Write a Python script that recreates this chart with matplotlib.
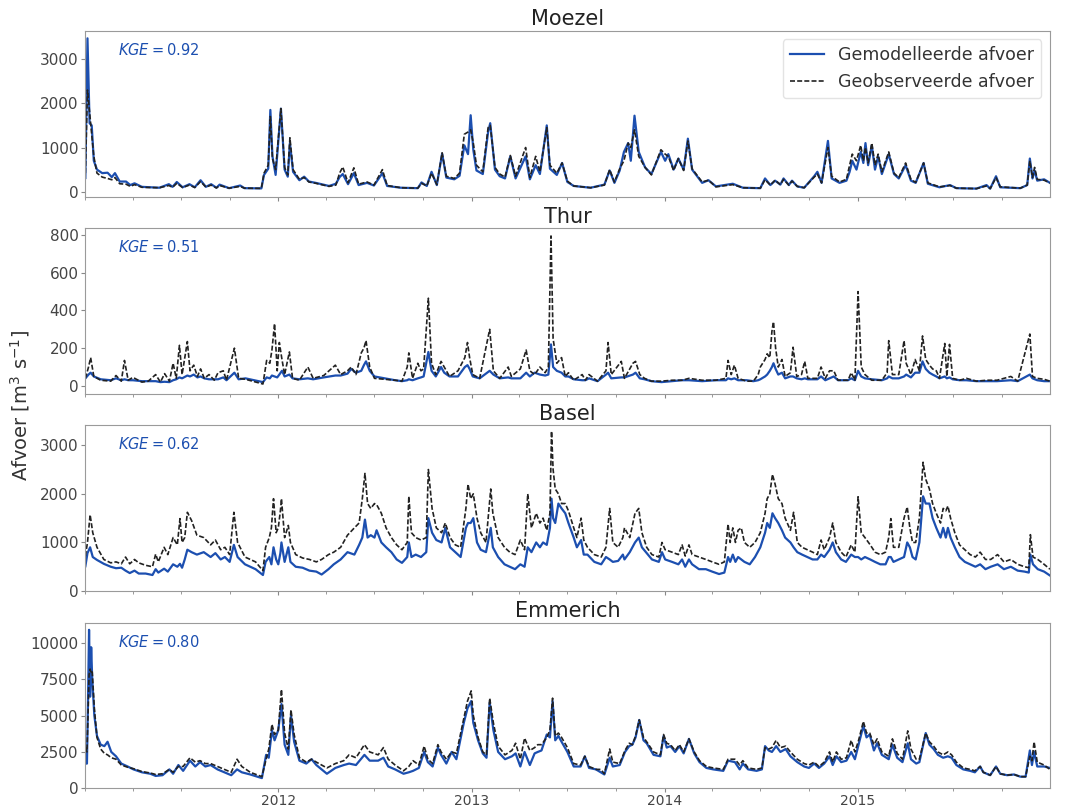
import matplotlib
matplotlib.use("Agg")
import matplotlib.pyplot as plt
import matplotlib.dates as mdates
import pandas as pd

# ---- Moezel ----
moezel_dates = [
    "2011-01-01", "2011-01-05", "2011-01-09", "2011-01-13", "2011-01-17", "2011-01-23",
    "2011-02-02", "2011-02-12", "2011-02-20", "2011-02-26", "2011-03-07", "2011-03-19",
    "2011-03-27", "2011-04-04", "2011-04-18", "2011-05-21", "2011-06-08", "2011-06-15",
    "2011-06-23", "2011-07-04", "2011-07-17", "2011-07-27", "2011-08-07", "2011-08-17",
    "2011-08-27", "2011-09-06", "2011-09-12", "2011-09-30", "2011-10-21", "2011-10-29",
    "2011-11-30", "2011-12-05", "2011-12-13", "2011-12-17", "2011-12-21", "2011-12-27",
    "2012-01-06", "2012-01-13", "2012-01-19", "2012-01-23", "2012-01-29", "2012-02-10",
    "2012-02-19", "2012-02-28", "2012-03-12", "2012-04-06", "2012-04-19", "2012-04-26",
    "2012-05-02", "2012-05-12", "2012-05-23", "2012-06-01", "2012-06-17", "2012-06-30",
    "2012-07-16", "2012-07-25", "2012-08-20", "2012-09-21", "2012-09-28", "2012-10-08",
    "2012-10-17", "2012-10-27", "2012-11-06", "2012-11-14", "2012-11-29", "2012-12-09",
    "2012-12-18", "2012-12-25", "2012-12-30", "2013-01-04", "2013-01-10", "2013-01-22",
    "2013-02-01", "2013-02-05", "2013-02-14", "2013-02-23", "2013-03-05", "2013-03-15",
    "2013-03-25", "2013-04-13", "2013-04-21", "2013-05-02", "2013-05-10", "2013-05-23",
    "2013-05-29", "2013-06-11", "2013-06-21", "2013-07-01", "2013-07-13", "2013-08-14",
    "2013-09-09", "2013-09-19", "2013-09-28", "2013-10-08", "2013-10-16", "2013-10-24",
    "2013-10-29", "2013-11-05", "2013-11-13", "2013-11-25", "2013-12-07", "2013-12-25",
    "2014-01-02", "2014-01-08", "2014-01-18", "2014-01-27", "2014-02-06", "2014-02-14",
    "2014-02-22", "2014-03-13", "2014-03-25", "2014-04-08", "2014-05-10", "2014-05-29",
    "2014-07-01", "2014-07-10", "2014-07-20", "2014-07-29", "2014-08-08", "2014-08-14",
    "2014-08-24", "2014-08-30", "2014-09-09", "2014-09-22", "2014-10-11", "2014-10-17",
    "2014-10-25", "2014-11-06", "2014-11-13", "2014-11-28", "2014-12-11", "2014-12-17",
    "2014-12-22", "2014-12-30", "2015-01-07", "2015-01-12", "2015-01-16", "2015-01-21",
    "2015-01-28", "2015-02-03", "2015-02-09", "2015-02-16", "2015-03-01", "2015-03-11",
    "2015-03-20", "2015-04-02", "2015-04-12", "2015-04-21", "2015-05-06", "2015-05-14",
    "2015-06-05", "2015-06-25", "2015-07-07", "2015-08-14", "2015-09-02", "2015-09-09",
    "2015-09-20", "2015-09-28", "2015-11-05", "2015-11-18", "2015-11-23", "2015-11-28",
    "2015-12-02", "2015-12-07", "2015-12-20", "2015-12-31",
]
moezel_mod = [
    310, 3470, 1550, 1500, 700, 500,
    420, 430, 330, 420, 230, 230,
    150, 190, 110, 90, 170, 110,
    220, 100, 170, 100, 260, 110,
    170, 90, 160, 80, 140, 80,
    75, 380, 520, 1850, 800, 380,
    1880, 500, 340, 1100, 450, 260,
    340, 230, 200, 130, 180, 330,
    400, 170, 420, 150, 200, 140,
    420, 130, 90, 80, 210, 130,
    450, 150, 860, 320, 280, 360,
    1050, 850, 1730, 950, 480, 400,
    1350, 1550, 500, 350, 300, 800,
    300, 800, 280, 600, 400, 1500,
    520, 380, 650, 220, 130, 90,
    160, 480, 200, 480, 900, 1100,
    700, 1720, 900, 550, 400, 900,
    700, 850, 500, 750, 500, 1200,
    500, 200, 260, 120, 180, 90,
    80, 300, 150, 250, 160, 300,
    150, 250, 120, 90, 350, 450,
    200, 1150, 300, 200, 250, 450,
    700, 500, 900, 650, 1100, 600,
    1050, 500, 800, 400, 850, 400,
    300, 600, 250, 200, 650, 180,
    100, 150, 80, 70, 150, 70,
    350, 100, 80, 150, 750, 300,
    480, 250, 280, 200,
]
moezel_obs = [
    420, 2300, 1800, 1300, 800, 420,
    330, 300, 270, 320, 180, 170,
    120, 160, 100, 90, 140, 100,
    190, 95, 150, 95, 230, 105,
    150, 85, 140, 80, 120, 80,
    75, 420, 600, 1700, 750, 500,
    1880, 550, 380, 1220, 500, 280,
    320, 220, 190, 120, 150, 420,
    560, 200, 540, 170, 220, 150,
    500, 140, 90, 80, 190, 130,
    420, 160, 880, 350, 300, 420,
    1300, 1350, 1400, 1100, 600, 450,
    1450, 1500, 550, 400, 330, 820,
    350, 1000, 320, 800, 450, 1450,
    600, 420, 650, 240, 130, 90,
    150, 500, 220, 520, 700, 1100,
    1000, 1400, 800, 550, 380, 950,
    850, 800, 480, 750, 480, 1150,
    520, 220, 260, 110, 160, 90,
    80, 270, 150, 260, 160, 280,
    150, 240, 120, 90, 330, 400,
    200, 1000, 350, 220, 280, 600,
    850, 700, 1050, 700, 1000, 650,
    1100, 600, 850, 450, 900, 420,
    320, 650, 280, 210, 650, 200,
    110, 140, 80, 70, 130, 70,
    320, 110, 80, 150, 700, 320,
    550, 280, 260, 200,
]

# ---- Thur ----
thur_dates = [
    "2011-01-01", "2011-01-07", "2011-01-11", "2011-01-17", "2011-01-30", "2011-02-18",
    "2011-02-28", "2011-03-10", "2011-03-16", "2011-03-23", "2011-04-01", "2011-04-18",
    "2011-04-30", "2011-05-14", "2011-05-23", "2011-05-31", "2011-06-09", "2011-06-16",
    "2011-06-22", "2011-06-28", "2011-07-03", "2011-07-13", "2011-07-18", "2011-07-25",
    "2011-08-01", "2011-08-07", "2011-08-14", "2011-08-23", "2011-09-02", "2011-09-09",
    "2011-09-19", "2011-09-25", "2011-10-10", "2011-10-18", "2011-10-31", "2011-12-03",
    "2011-12-10", "2011-12-16", "2011-12-20", "2011-12-25", "2011-12-30", "2012-01-03",
    "2012-01-08", "2012-01-13", "2012-01-22", "2012-01-28", "2012-02-10", "2012-02-26",
    "2012-03-07", "2012-03-27", "2012-04-18", "2012-04-28", "2012-05-11", "2012-05-18",
    "2012-05-27", "2012-06-06", "2012-06-11", "2012-06-15", "2012-06-22", "2012-07-01",
    "2012-07-21", "2012-08-09", "2012-08-22", "2012-09-01", "2012-09-04", "2012-09-11",
    "2012-09-21", "2012-09-27", "2012-10-02", "2012-10-11", "2012-10-17", "2012-10-25",
    "2012-11-04", "2012-11-10", "2012-11-20", "2012-12-06", "2012-12-19", "2012-12-24",
    "2012-12-28", "2013-01-03", "2013-01-16", "2013-02-04", "2013-02-11", "2013-02-23",
    "2013-03-11", "2013-03-17", "2013-04-03", "2013-04-14", "2013-04-21", "2013-04-30",
    "2013-05-10", "2013-05-20", "2013-05-26", "2013-05-31", "2013-06-04", "2013-06-11",
    "2013-06-20", "2013-06-27", "2013-07-03", "2013-07-13", "2013-07-29", "2013-08-04",
    "2013-08-11", "2013-08-27", "2013-09-12", "2013-09-16", "2013-09-22", "2013-10-11",
    "2013-10-17", "2013-11-02", "2013-11-07", "2013-11-15", "2013-11-24", "2013-12-07",
    "2013-12-26", "2014-01-15", "2014-02-03", "2014-02-16", "2014-03-13", "2014-04-08",
    "2014-04-27", "2014-05-01", "2014-05-07", "2014-05-13", "2014-05-20", "2014-06-05",
    "2014-06-18", "2014-06-27", "2014-07-01", "2014-07-10", "2014-07-14", "2014-07-19",
    "2014-07-23", "2014-07-26", "2014-07-30", "2014-08-04", "2014-08-11", "2014-08-17",
    "2014-08-27", "2014-09-01", "2014-09-08", "2014-09-17", "2014-09-23", "2014-09-29",
    "2014-10-17", "2014-10-24", "2014-11-01", "2014-11-09", "2014-11-17", "2014-11-25",
    "2014-12-14", "2014-12-20", "2014-12-27", "2015-01-02", "2015-01-08", "2015-01-15",
    "2015-01-28", "2015-02-16", "2015-02-26", "2015-03-01", "2015-03-08", "2015-03-20",
    "2015-03-30", "2015-04-03", "2015-04-12", "2015-04-20", "2015-04-28", "2015-05-04",
    "2015-05-10", "2015-05-17", "2015-05-23", "2015-05-30", "2015-06-05", "2015-06-15",
    "2015-06-19", "2015-06-24", "2015-06-30", "2015-07-13", "2015-07-26", "2015-08-14",
    "2015-09-02", "2015-09-22", "2015-10-18", "2015-10-31", "2015-11-23", "2015-11-28",
    "2015-12-07", "2015-12-20", "2015-12-31",
]
thur_mod = [
    40, 60, 70, 50, 35, 30,
    40, 30, 35, 30, 30, 25,
    25, 25, 20, 22, 20, 30,
    35, 45, 40, 55, 50, 60,
    45, 50, 40, 35, 35, 35,
    45, 30, 70, 35, 40, 20,
    45, 40, 55, 50, 45, 60,
    80, 50, 60, 40, 35, 40,
    35, 45, 55, 55, 65, 90,
    70, 80, 110, 130, 80, 50,
    40, 30, 25, 30, 35, 30,
    40, 45, 50, 180, 80, 50,
    100, 70, 50, 50, 100, 110,
    90, 50, 40, 80, 60, 40,
    45, 40, 40, 70, 50, 70,
    60, 55, 60, 220, 100, 80,
    70, 50, 50, 35, 30, 30,
    40, 25, 60, 70, 40, 45,
    45, 60, 70, 40, 35, 25,
    20, 25, 30, 30, 25, 30,
    30, 40, 35, 40, 30, 30,
    25, 30, 35, 50, 60, 80,
    100, 120, 90, 60, 70, 40,
    50, 50, 40, 35, 40, 35,
    35, 50, 30, 40, 50, 30,
    30, 40, 30, 80, 50, 40,
    35, 30, 40, 50, 40, 40,
    50, 60, 45, 70, 70, 130,
    90, 70, 60, 50, 40, 50,
    40, 45, 35, 30, 30, 25,
    25, 25, 30, 25, 60, 40,
    30, 25, 25,
]
thur_obs = [
    40, 100, 150, 50, 30, 25,
    55, 25, 135, 30, 45, 20,
    25, 60, 20, 65, 25, 120,
    40, 215, 60, 235, 80, 110,
    50, 90, 40, 60, 30, 70,
    80, 30, 200, 40, 35, 10,
    135, 120, 190, 330, 80, 230,
    140, 60, 180, 40, 30, 100,
    40, 55, 110, 60, 80, 100,
    60, 175, 200, 240, 100, 40,
    35, 30, 25, 100, 175, 40,
    120, 80, 90, 465, 120, 60,
    130, 100, 50, 80, 150, 230,
    150, 60, 40, 300, 80, 40,
    100, 50, 90, 190, 80, 60,
    100, 70, 100, 795, 250, 120,
    150, 50, 70, 30, 60, 30,
    60, 25, 80, 230, 60, 130,
    40, 120, 130, 60, 40, 25,
    25, 30, 30, 40, 30, 30,
    40, 135, 60, 110, 40, 25,
    25, 60, 100, 140, 170, 150,
    290, 340, 200, 100, 140, 50,
    70, 205, 50, 60, 130, 40,
    40, 100, 40, 80, 80, 30,
    30, 70, 30, 500, 100, 60,
    30, 30, 70, 240, 60, 60,
    240, 120, 60, 140, 80, 265,
    140, 110, 90, 80, 40, 225,
    50, 220, 40, 30, 40, 25,
    30, 30, 50, 25, 275, 50,
    40, 35, 25,
]

# ---- Basel ----
basel_dates = [
    "2011-01-01", "2011-01-05", "2011-01-10", "2011-01-15", "2011-01-23", "2011-02-05",
    "2011-02-18", "2011-02-28", "2011-03-10", "2011-03-18", "2011-03-26", "2011-04-04",
    "2011-04-12", "2011-04-25", "2011-05-08", "2011-05-14", "2011-05-19", "2011-05-30",
    "2011-06-06", "2011-06-16", "2011-06-24", "2011-06-29", "2011-07-03", "2011-07-08",
    "2011-07-13", "2011-07-21", "2011-07-31", "2011-08-13", "2011-08-26", "2011-09-04",
    "2011-09-14", "2011-09-22", "2011-10-01", "2011-10-09", "2011-10-16", "2011-10-30",
    "2011-11-19", "2011-12-03", "2011-12-08", "2011-12-15", "2011-12-19", "2011-12-23",
    "2011-12-28", "2012-01-01", "2012-01-05", "2012-01-07", "2012-01-13", "2012-01-20",
    "2012-01-24", "2012-02-03", "2012-02-16", "2012-02-29", "2012-03-13", "2012-03-23",
    "2012-04-05", "2012-04-15", "2012-04-28", "2012-05-11", "2012-05-24", "2012-06-02",
    "2012-06-08", "2012-06-13", "2012-06-18", "2012-06-24", "2012-07-01", "2012-07-05",
    "2012-07-14", "2012-07-23", "2012-08-02", "2012-08-12", "2012-08-22", "2012-09-01",
    "2012-09-04", "2012-09-09", "2012-09-17", "2012-09-27", "2012-10-07", "2012-10-11",
    "2012-10-18", "2012-10-26", "2012-11-05", "2012-11-12", "2012-11-21", "2012-12-01",
    "2012-12-11", "2012-12-21", "2012-12-25", "2012-12-30", "2013-01-04", "2013-01-11",
    "2013-01-18", "2013-01-28", "2013-02-06", "2013-02-10", "2013-02-20", "2013-03-04",
    "2013-03-14", "2013-03-24", "2013-04-03", "2013-04-11", "2013-04-17", "2013-04-24",
    "2013-05-03", "2013-05-10", "2013-05-16", "2013-05-23", "2013-05-29", "2013-06-01",
    "2013-06-04", "2013-06-08", "2013-06-14", "2013-06-20", "2013-06-27", "2013-07-03",
    "2013-07-13", "2013-07-19", "2013-07-27", "2013-08-01", "2013-08-08", "2013-08-21",
    "2013-09-03", "2013-09-12", "2013-09-19", "2013-09-25", "2013-10-05", "2013-10-14",
    "2013-10-17", "2013-10-27", "2013-11-06", "2013-11-13", "2013-11-19", "2013-11-28",
    "2013-12-08", "2013-12-21", "2013-12-27", "2014-01-02", "2014-01-15", "2014-01-27",
    "2014-02-03", "2014-02-09", "2014-02-16", "2014-02-22", "2014-03-07", "2014-03-20",
    "2014-04-01", "2014-04-14", "2014-04-24", "2014-05-01", "2014-05-05", "2014-05-10",
    "2014-05-15", "2014-05-20", "2014-05-26", "2014-06-01", "2014-06-11", "2014-06-21",
    "2014-07-01", "2014-07-10", "2014-07-14", "2014-07-19", "2014-07-24", "2014-07-29",
    "2014-08-04", "2014-08-11", "2014-08-17", "2014-08-27", "2014-09-02", "2014-09-09",
    "2014-09-18", "2014-09-28", "2014-10-08", "2014-10-17", "2014-10-24", "2014-10-30",
    "2014-11-09", "2014-11-15", "2014-11-21", "2014-12-01", "2014-12-10", "2014-12-20",
    "2014-12-27", "2015-01-02", "2015-01-08", "2015-01-15", "2015-01-25", "2015-02-03",
    "2015-02-13", "2015-02-23", "2015-03-01", "2015-03-05", "2015-03-10", "2015-03-20",
    "2015-03-30", "2015-04-05", "2015-04-10", "2015-04-15", "2015-04-21", "2015-04-28",
    "2015-05-05", "2015-05-10", "2015-05-17", "2015-05-23", "2015-05-30", "2015-06-07",
    "2015-06-12", "2015-06-17", "2015-06-21", "2015-06-26", "2015-07-04", "2015-07-13",
    "2015-07-23", "2015-08-02", "2015-08-12", "2015-08-21", "2015-08-31", "2015-09-10",
    "2015-09-23", "2015-10-05", "2015-10-18", "2015-10-31", "2015-11-13", "2015-11-21",
    "2015-11-24", "2015-11-29", "2015-12-08", "2015-12-20", "2015-12-31",
]
basel_mod = [
    510, 780, 900, 700, 640, 560,
    500, 470, 480, 420, 370, 420,
    360, 360, 330, 450, 380, 460,
    400, 550, 500, 560, 480, 650,
    850, 800, 750, 800, 700, 780,
    650, 700, 600, 950, 700, 550,
    450, 330, 600, 700, 550, 900,
    650, 550, 780, 1000, 600, 900,
    600, 500, 480, 420, 400, 340,
    450, 550, 650, 800, 750, 950,
    1100, 1470, 1100, 1150, 1100, 1250,
    1000, 900, 800, 650, 580, 700,
    1000, 700, 750, 700, 800, 1500,
    1200, 1050, 1000, 1300, 900, 800,
    700, 1300, 1400, 1400, 1500, 1000,
    850, 800, 1300, 900, 700, 550,
    500, 450, 550, 500, 900, 800,
    1000, 900, 1000, 950, 1300, 1900,
    1500, 1400, 1800, 1700, 1600, 1400,
    1100, 900, 1050, 750, 750, 600,
    550, 700, 650, 600, 620, 750,
    650, 800, 1000, 1100, 900, 780,
    650, 600, 800, 650, 600, 550,
    650, 500, 650, 550, 450, 450,
    400, 350, 380, 700, 600, 750,
    600, 700, 650, 600, 550, 700,
    900, 1200, 1400, 1300, 1600, 1500,
    1400, 1250, 1100, 1000, 900, 800,
    750, 700, 650, 650, 750, 700,
    850, 1000, 800, 650, 600, 750,
    700, 700, 650, 700, 650, 600,
    550, 550, 700, 700, 600, 650,
    700, 1000, 900, 700, 650, 1000,
    1950, 1800, 1800, 1500, 1300, 1100,
    1300, 1100, 1300, 1100, 900, 700,
    600, 550, 500, 550, 450, 500,
    550, 450, 500, 420, 400, 380,
    750, 550, 450, 400, 320,
]
basel_obs = [
    720, 1000, 1570, 1200, 900, 650,
    580, 600, 560, 700, 560, 650,
    580, 530, 500, 760, 600, 900,
    750, 1100, 950, 1490, 1000, 1100,
    1620, 1450, 1150, 1100, 950, 1050,
    850, 900, 750, 1620, 1000, 700,
    600, 420, 900, 1100, 1300, 1900,
    1200, 1300, 1650, 1900, 1100, 1350,
    1000, 750, 680, 650, 600, 650,
    750, 800, 900, 1150, 1300, 1400,
    1900, 2420, 1800, 1700, 1800, 1780,
    1600, 1300, 1100, 950, 850, 1000,
    1950, 1200, 1100, 1050, 1100, 2500,
    1700, 1300, 1200, 1400, 1100, 950,
    900, 1700, 2200, 1900, 2000, 1500,
    1200, 1000, 2100, 1600, 1100, 900,
    800, 750, 1050, 850, 2000, 1300,
    1600, 1400, 1500, 1250, 1600, 3290,
    2500, 2100, 2000, 1800, 1800, 1650,
    1300, 1100, 1500, 1050, 900, 750,
    700, 900, 1700, 1000, 900, 1100,
    1300, 1100, 1600, 1700, 1200, 900,
    750, 700, 1000, 850, 800, 750,
    950, 720, 950, 750, 700, 650,
    600, 550, 600, 1380, 1000, 1300,
    1000, 1250, 1300, 1000, 900, 1000,
    1200, 1600, 1900, 2000, 2400, 2200,
    1900, 1800, 1500, 1250, 1620, 1000,
    900, 850, 800, 750, 1050, 850,
    1100, 1400, 1000, 800, 700, 950,
    800, 1940, 1200, 1100, 950, 800,
    750, 800, 1100, 1490, 900, 900,
    1500, 1730, 1300, 1000, 1000, 1500,
    2650, 2300, 2100, 1800, 1600, 1400,
    1700, 1650, 1750, 1500, 1200, 950,
    850, 750, 700, 800, 650, 650,
    750, 600, 650, 550, 500, 480,
    1160, 700, 650, 550, 450,
]

# ---- Emmerich ----
emmerich_dates = [
    "2011-01-01", "2011-01-04", "2011-01-06", "2011-01-08", "2011-01-10", "2011-01-12",
    "2011-01-14", "2011-01-18", "2011-01-23", "2011-01-30", "2011-02-06", "2011-02-12",
    "2011-02-19", "2011-02-28", "2011-03-10", "2011-03-22", "2011-04-02", "2011-04-18",
    "2011-05-04", "2011-05-14", "2011-05-27", "2011-06-09", "2011-06-16", "2011-06-26",
    "2011-07-05", "2011-07-18", "2011-07-28", "2011-08-06", "2011-08-16", "2011-08-26",
    "2011-09-08", "2011-09-21", "2011-10-04", "2011-10-15", "2011-10-24", "2011-11-09",
    "2011-12-01", "2011-12-09", "2011-12-14", "2011-12-20", "2011-12-25", "2012-01-01",
    "2012-01-07", "2012-01-13", "2012-01-20", "2012-01-25", "2012-01-31", "2012-02-10",
    "2012-02-23", "2012-03-04", "2012-03-13", "2012-04-02", "2012-04-18", "2012-05-04",
    "2012-05-14", "2012-05-27", "2012-06-12", "2012-06-22", "2012-07-08", "2012-07-18",
    "2012-07-27", "2012-08-09", "2012-08-25", "2012-09-04", "2012-09-12", "2012-09-23",
    "2012-10-03", "2012-10-10", "2012-10-19", "2012-10-29", "2012-11-04", "2012-11-14",
    "2012-11-24", "2012-12-03", "2012-12-17", "2012-12-24", "2012-12-31", "2013-01-04",
    "2013-01-13", "2013-01-22", "2013-01-29", "2013-02-04", "2013-02-11", "2013-02-20",
    "2013-03-05", "2013-03-18", "2013-03-25", "2013-04-03", "2013-04-11", "2013-04-21",
    "2013-04-30", "2013-05-06", "2013-05-13", "2013-05-23", "2013-05-29", "2013-06-03",
    "2013-06-08", "2013-06-14", "2013-06-20", "2013-07-01", "2013-07-13", "2013-07-26",
    "2013-08-03", "2013-08-11", "2013-08-24", "2013-09-02", "2013-09-09", "2013-09-19",
    "2013-09-25", "2013-10-08", "2013-10-18", "2013-10-26", "2013-11-01", "2013-11-07",
    "2013-11-14", "2013-11-22", "2013-11-28", "2013-12-11", "2013-12-24", "2013-12-30",
    "2014-01-05", "2014-01-12", "2014-01-21", "2014-01-29", "2014-02-06", "2014-02-16",
    "2014-02-26", "2014-03-08", "2014-03-21", "2014-04-03", "2014-04-22", "2014-05-01",
    "2014-05-14", "2014-05-23", "2014-05-29", "2014-06-08", "2014-06-24", "2014-07-04",
    "2014-07-10", "2014-07-17", "2014-07-23", "2014-07-31", "2014-08-08", "2014-08-18",
    "2014-08-27", "2014-09-09", "2014-09-22", "2014-10-01", "2014-10-11", "2014-10-20",
    "2014-10-30", "2014-11-09", "2014-11-15", "2014-11-22", "2014-12-01", "2014-12-11",
    "2014-12-20", "2014-12-27", "2015-01-03", "2015-01-12", "2015-01-18", "2015-01-24",
    "2015-02-01", "2015-02-07", "2015-02-16", "2015-03-01", "2015-03-08", "2015-03-17",
    "2015-03-27", "2015-04-06", "2015-04-12", "2015-04-22", "2015-04-28", "2015-05-10",
    "2015-05-17", "2015-05-25", "2015-06-02", "2015-06-12", "2015-06-21", "2015-06-28",
    "2015-07-07", "2015-07-20", "2015-08-02", "2015-08-11", "2015-08-21", "2015-08-27",
    "2015-09-09", "2015-09-20", "2015-09-28", "2015-10-11", "2015-10-24", "2015-11-05",
    "2015-11-15", "2015-11-23", "2015-11-27", "2015-12-01", "2015-12-07", "2015-12-20",
    "2015-12-31",
]
emmerich_mod = [
    1700, 1700, 6000, 10900, 6300, 9700,
    7500, 5000, 3600, 3000, 2900, 3200,
    2500, 2200, 1700, 1500, 1300, 1100,
    1000, 850, 900, 1300, 1000, 1600,
    1200, 1900, 1500, 1800, 1500, 1600,
    1300, 1100, 900, 1300, 1100, 950,
    700, 2300, 2100, 4000, 3300, 4000,
    5800, 3000, 2300, 5000, 3200, 1900,
    1700, 2000, 1600, 1000, 1400, 1600,
    1700, 1600, 2300, 1900, 1900, 2100,
    1500, 1300, 1000, 1100, 1200, 1400,
    2500, 1800, 1500, 2800, 2300, 1700,
    2500, 2000, 4500, 5500, 6000, 4500,
    3300, 2400, 2100, 5900, 4000, 2500,
    2000, 2200, 2400, 1500, 2500, 1600,
    2400, 2500, 2600, 3700, 3500, 6000,
    3300, 3600, 3200, 2500, 1500, 1500,
    2200, 1400, 1300, 1100, 950, 2100,
    1500, 1600, 2500, 2900, 3000, 3500,
    4700, 3300, 3100, 2300, 2200, 3600,
    2800, 2900, 2500, 2900, 2400, 3400,
    2400, 1800, 1400, 1300, 1200, 1900,
    1800, 1300, 1700, 1300, 1200, 1300,
    2900, 2600, 2500, 2900, 2500, 2700,
    2200, 1800, 1500, 1400, 1700, 1400,
    1700, 2200, 1600, 2200, 1800, 1900,
    2500, 2000, 3000, 4300, 3500, 3700,
    2600, 3100, 2300, 2000, 3000, 2100,
    1800, 3100, 2000, 1700, 1800, 3800,
    3000, 2700, 2300, 2100, 2200, 2100,
    1600, 1300, 1200, 1100, 1500, 1100,
    900, 1500, 1000, 900, 950, 800,
    800, 2600, 1600, 2500, 1500, 1500,
    1400,
]
emmerich_obs = [
    2800, 2500, 5000, 7800, 8200, 7900,
    8000, 5500, 3500, 2700, 2400, 2300,
    2100, 2000, 1600, 1450, 1350, 1150,
    1050, 950, 1000, 1300, 1100, 1500,
    1500, 2100, 1800, 1900, 1700, 1700,
    1500, 1300, 1100, 2000, 1500, 1100,
    800, 2000, 2700, 4400, 3700, 4000,
    6800, 3800, 2700, 5400, 3700, 2100,
    1800, 2000, 1800, 1400, 1700, 1900,
    2300, 2100, 3000, 2500, 2300, 2800,
    2000, 1600, 1200, 1500, 1900, 1600,
    2900, 2000, 1700, 3000, 2500, 2000,
    2500, 2400, 4800, 6000, 6700, 5000,
    3500, 2500, 2300, 6200, 4500, 2900,
    2300, 2600, 3100, 2000, 3450, 2600,
    2800, 3000, 3000, 3500, 4000, 6200,
    3600, 3800, 3500, 2800, 1700, 1600,
    2200, 1500, 1300, 1300, 1000, 2700,
    1800, 1700, 2600, 3100, 3000, 3600,
    4700, 3500, 3200, 2500, 2300, 3700,
    3100, 3000, 2600, 3000, 2500, 3400,
    2500, 1900, 1500, 1400, 1300, 2000,
    2000, 1600, 1900, 1400, 1300, 1400,
    2800, 2700, 2800, 3300, 2800, 2900,
    2500, 2000, 1700, 1600, 1800, 1500,
    1800, 2500, 1800, 2500, 2000, 2100,
    3300, 2500, 3300, 4600, 3800, 3800,
    3000, 3400, 2500, 2200, 3400, 2400,
    2000, 3950, 2700, 2000, 2000, 3800,
    3200, 2900, 2500, 2300, 2500, 2300,
    1800, 1400, 1300, 1200, 1500, 1100,
    900, 1500, 1000, 900, 950, 800,
    800, 2200, 1900, 3200, 1800, 1600,
    1300,
]

stations = ["Moezel", "Thur", "Basel", "Emmerich"]
kge_values = ["0.92", "0.51", "0.62", "0.80"]
series = [
    (moezel_dates, moezel_mod, moezel_obs),
    (thur_dates, thur_mod, thur_obs),
    (basel_dates, basel_mod, basel_obs),
    (emmerich_dates, emmerich_mod, emmerich_obs),
]
ylims = [(-110, 3640), (-42, 837), (0, 3410), (0, 11400)]
yticks = [[0, 1000, 2000, 3000], [0, 200, 400, 600, 800],
          [0, 1000, 2000, 3000], [0, 2500, 5000, 7500, 10000]]

blue = "#1c4fb0"

fig, axes = plt.subplots(4, 1, figsize=(10.67, 8.11), dpi=100, sharex=True)
fig.subplots_adjust(left=0.080, right=0.984, top=0.962, bottom=0.028, hspace=0.19)

for i, ax in enumerate(axes):
    d, mod, obs = series[i]
    assert len(d) == len(mod) == len(obs), (stations[i], len(d), len(mod), len(obs))
    t = pd.to_datetime(d)
    ax.plot(t, mod, color=blue, lw=1.6, label="Gemodelleerde afvoer")
    ax.plot(t, obs, color="#222222", lw=1.2, linestyle=(0, (3, 1.3)),
            label="Geobserveerde afvoer")
    ax.set_ylim(*ylims[i])
    ax.set_yticks(yticks[i])
    ax.set_title(stations[i], fontsize=15, color="#222222", pad=4)
    ax.text(0.034, 0.885, r"$KGE = %s$" % kge_values[i], transform=ax.transAxes,
            color=blue, fontsize=10.5, va="center", ha="left")
    for sp in ax.spines.values():
        sp.set_color("#9a9a9a")
    ax.tick_params(axis="both", which="major", labelsize=11, colors="#444444",
                   length=3, pad=2, color="#888888")
    ax.tick_params(axis="x", which="minor", length=2, color="#888888")

axes[0].set_xlim(pd.Timestamp("2011-01-01"), pd.Timestamp("2015-12-31"))
axes[-1].set_xticks(pd.to_datetime(["2012-01-01", "2013-01-01", "2014-01-01", "2015-01-01"]))
axes[-1].xaxis.set_major_formatter(mdates.DateFormatter("%Y"))
axes[-1].xaxis.set_minor_locator(mdates.MonthLocator(bymonth=[1, 4, 7, 10]))
axes[-1].tick_params(axis="x", which="major", labelsize=10, pad=1)

leg = axes[0].legend(loc="upper right", fontsize=12.5, frameon=True, fancybox=True,
                     borderpad=0.4, handlelength=2.0)
leg.get_frame().set_edgecolor("#dddddd")
for txt in leg.get_texts():
    txt.set_color("#333333")

fig.text(0.019, 0.5, r"Afvoer [m$^3$ s$^{-1}$]", rotation=90, va="center",
         ha="center", fontsize=14, color="#333333")

fig.savefig("out.png", dpi=100)
